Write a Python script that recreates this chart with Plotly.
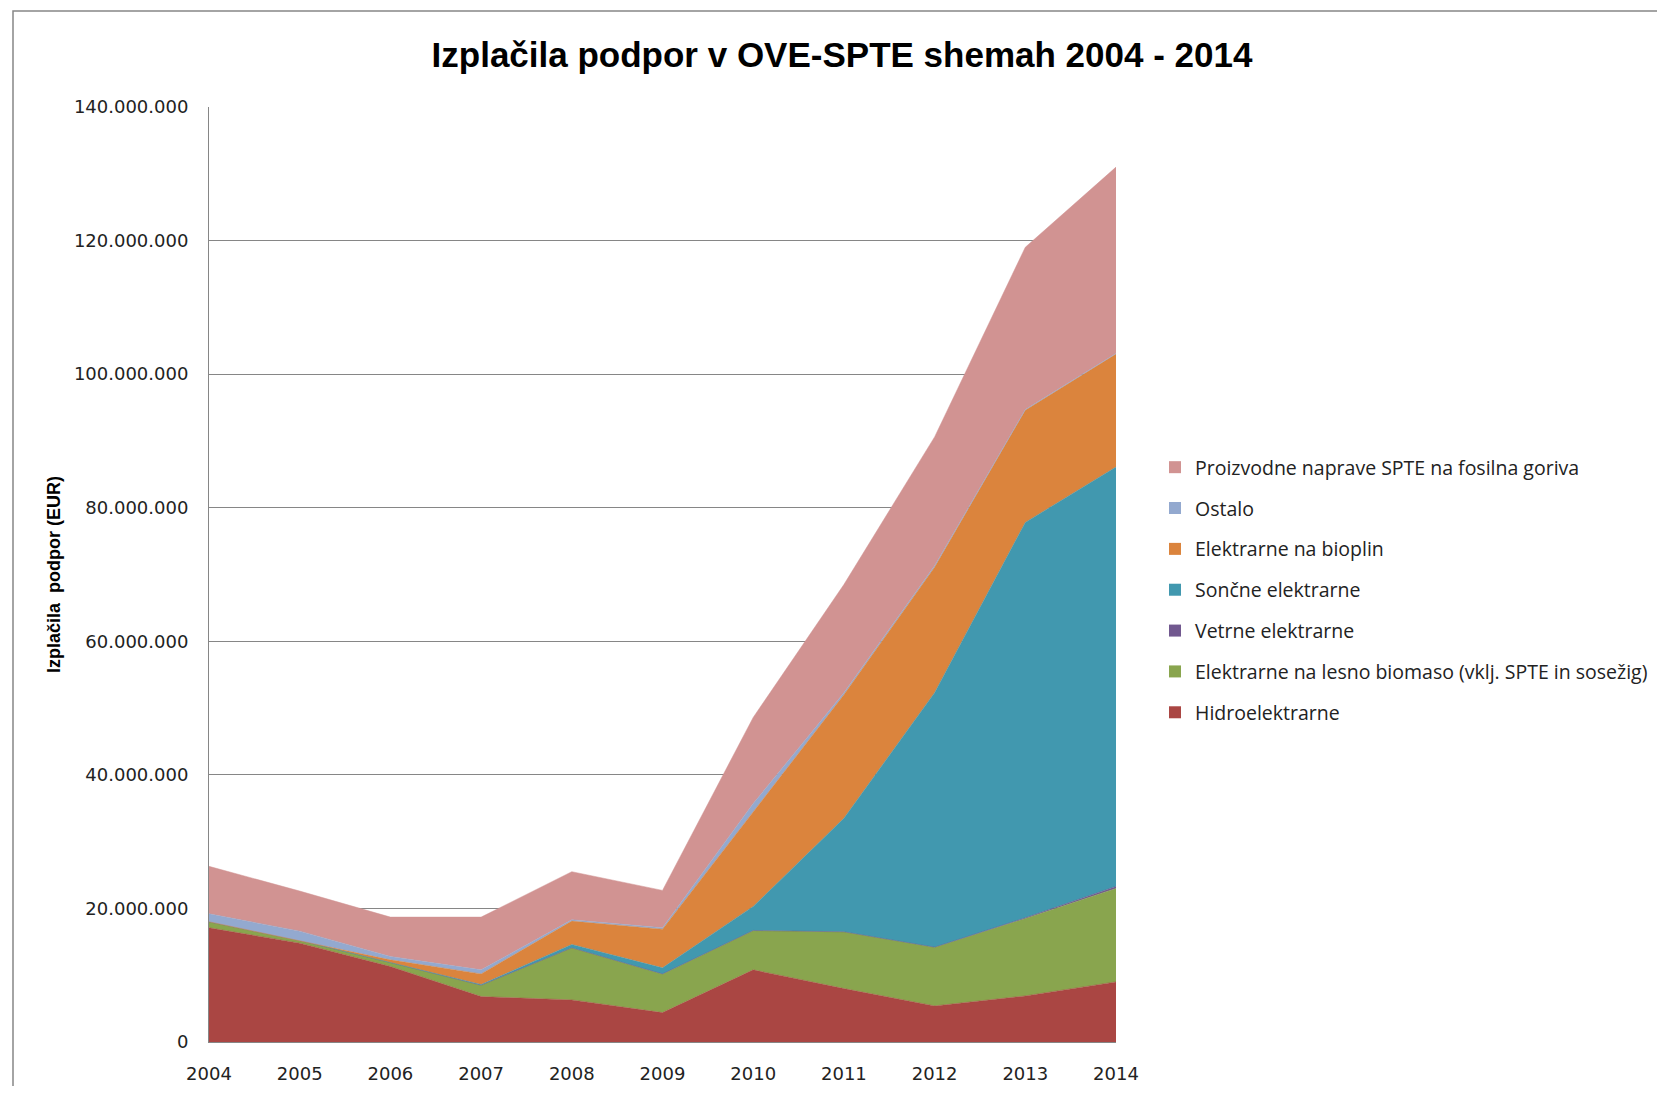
import plotly.graph_objects as go

# Data (millions EUR)
years = [2004, 2005, 2006, 2007, 2008, 2009, 2010, 2011, 2012, 2013, 2014]
hidro = [17.1, 14.8, 11.3, 6.8, 6.3, 4.4, 10.8, 8.0, 5.4, 6.9, 9.0]
biomasa = [0.9, 0.4, 0.6, 1.7, 7.8, 5.8, 5.9, 8.5, 8.8, 11.6, 14.0]
veter = [0.0, 0.0, 0.0, 0.0, 0.0, 0.0, 0.0, 0.0, 0.0, 0.1, 0.3]
sonce = [0.0, 0.0, 0.0, 0.1, 0.5, 0.9, 3.6, 17.0, 38.1, 59.2, 62.8]
bioplin = [0.0, 0.0, 0.4, 1.6, 3.5, 5.8, 14.2, 18.5, 18.8, 16.8, 16.9]
ostalo = [1.2, 1.4, 0.5, 0.6, 0.2, 0.2, 1.2, 0.3, 0.2, 0.1, 0.1]
fosilna = [7.1, 6.0, 5.9, 7.9, 7.2, 5.6, 12.9, 16.2, 19.3, 24.3, 27.9]

series_names = [
    "Hidroelektrarne",
    "Elektrarne na lesno biomaso (vklj. SPTE in sosežig)",
    "Vetrne elektrarne",
    "Sončne elektrarne",
    "Elektrarne na bioplin",
    "Ostalo",
    "Proizvodne naprave SPTE na fosilna goriva",
]
series_values = [hidro, biomasa, veter, sonce, bioplin, ostalo, fosilna]
series_colors = ["#AA4643", "#89A54E", "#71588F", "#4198AF", "#DB843D", "#93A9CF", "#D19392"]

y_ticks = [0, 20e6, 40e6, 60e6, 80e6, 100e6, 120e6, 140e6]

fig = go.Figure()
for name, vals, col in zip(series_names, series_values, series_colors):
    fig.add_trace(go.Scatter(
        x=years, y=[v * 1e6 for v in vals], name=name, stackgroup="one",
        mode="lines", line=dict(color=col, width=0.5), fillcolor=col,
        showlegend=False, legendgroup=name,
    ))
# legend swatches (square markers), top of legend = top of stack
for name, col in reversed(list(zip(series_names, series_colors))):
    fig.add_trace(go.Scatter(
        x=[years[0]], y=[None], name=name, mode="markers",
        marker=dict(symbol="square", size=12, color=col),
        legendgroup=name, showlegend=True,
    ))

OFF = 8  # page body margin
W, H = 1665 - 2 * OFF, 1094 - 2 * OFF
PW, PH = 907, 935
L, T = 209 - OFF, 107 - OFF
R, B = W - L - PW, H - T - PH

fig.update_layout(
    width=W, height=H,
    margin=dict(l=L, r=R, t=T, b=B, autoexpand=False),
    paper_bgcolor="white", plot_bgcolor="white",
    separators=",.",
    title=dict(
        text="<b>Izplačila podpor v OVE-SPTE shemah 2004 - 2014</b>",
        x=(842 - OFF) / W, xref="container", xanchor="center",
        y=1 - (55 - OFF) / H, yref="container", yanchor="middle",
        font=dict(family="Liberation Sans Narrow, Liberation Sans", size=35, color="#000000"),
    ),
    xaxis=dict(
        range=[2004, 2014], tickmode="array", tickvals=years,
        ticktext=[str(y) for y in years], automargin=False,
        showgrid=False, showline=True, linecolor="#868686", linewidth=1,
        ticks="", ticklabelstandoff=15, zeroline=False,
        tickfont=dict(family="DejaVu Sans", size=18, color="#222222"),
    ),
    yaxis=dict(
        range=[0, 140e6], tickmode="array", tickvals=y_ticks, tickformat=",d",
        showgrid=True, gridcolor="#868686", gridwidth=1, automargin=False,
        showline=True, linecolor="#868686", linewidth=1, zeroline=False,
        ticks="", ticklabelstandoff=16,
        tickfont=dict(family="DejaVu Sans", size=18, color="#222222"),
        title=dict(text="<b>Izplačila  podpor (EUR)</b>", standoff=8,
                   font=dict(family="Liberation Sans Narrow, Liberation Sans", size=18, color="#000000")),
    ),
    legend=dict(
        x=(1155 - 209) / PW, xanchor="left", y=(1042 - 590) / PH, yanchor="middle",
        traceorder="grouped", tracegroupgap=12.5,
        font=dict(family="Open Sans", size=19.5, color="#222222"),
        bgcolor="rgba(0,0,0,0)",
    ),
    showlegend=True,
)

fig.add_shape(type="rect", xref="paper", yref="paper",
              x0=(13 - 209) / PW, x1=1.8, y0=-0.3, y1=(1042 - 11) / PH,
              line=dict(color="#878787", width=1.5), fillcolor="rgba(0,0,0,0)", layer="below")

fig.write_html("out.html")
